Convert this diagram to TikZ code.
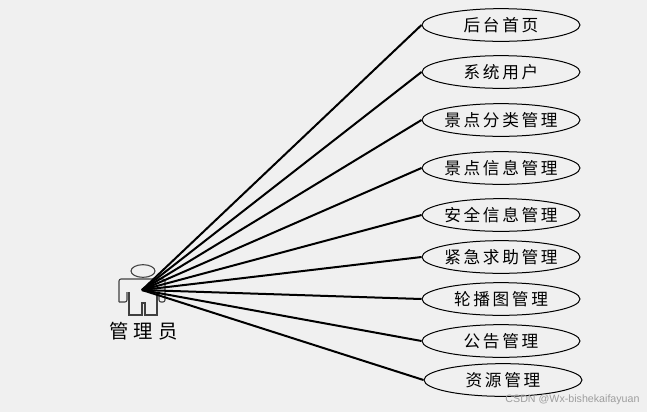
\documentclass[tikz,border=0pt]{standalone}
\usepackage{fontspec}
\usetikzlibrary{shapes.geometric}
\setmainfont{Liberation Sans}
\newfontfamily\cjk[LetterSpace=16]{Noto Sans CJK SC}
\newfontfamily\cjkwide[LetterSpace=25]{Noto Sans CJK SC}
\definecolor{bgc}{HTML}{F0F0F0}
\newcommand{\uctext}[1]{\makebox[0pt][c]{#1}}
\begin{document}
\begin{tikzpicture}[x=0.75pt,y=-0.75pt,
  usecase/.style={draw=black,line width=0.75pt,ellipse,minimum width=118.5pt,minimum height=24.5pt,inner sep=0pt,font=\cjk\fontsize{12.5pt}{14pt}\selectfont},
  link/.style={draw=black,line width=1.5pt},
  outline/.style={draw=black!75,line width=0.8pt}]
\useasboundingbox[fill=bgc] (0,0) rectangle (647,412);
\node[usecase] (u1) at (501,25) {\uctext{后台首页}};
\node[usecase] (u2) at (501,72) {\uctext{系统用户}};
\node[usecase] (u3) at (501,120) {\uctext{景点分类管理}};
\node[usecase] (u4) at (501,168) {\uctext{景点信息管理}};
\node[usecase] (u5) at (501,215) {\uctext{安全信息管理}};
\node[usecase] (u6) at (501,257) {\uctext{紧急求助管理}};
\node[usecase] (u7) at (501,299) {\uctext{轮播图管理}};
\node[usecase] (u8) at (501,341) {\uctext{公告管理}};
\node[usecase] (u9) at (503,380) {\uctext{资源管理}};
% actor
\node[draw=black!75,line width=0.8pt,ellipse,minimum width=18pt,minimum height=9.5pt,inner sep=0pt] (head) at (143,271) {};
\draw[outline,rounded corners=1.5pt] (119,302) -- (119,279) -- (165,279) -- (165,302) -- (159,302) -- (159,292);
\draw[outline,rounded corners=1.5pt] (119,302) -- (127,302) -- (127,292);
\draw[outline] (129,292) -- (129,315) -- (142,315) -- (142,303) -- (145,303) -- (145,315) -- (157,315) -- (157,292);
\coordinate (hub) at (142,290);
\node[font=\cjkwide\fontsize{14.5pt}{16pt}\selectfont] (actor) at (143.5,331) {管理员};
\foreach \n in {1,...,9} \draw[link] (hub) -- (u\n.west);
\node[text=black!38,font=\fontsize{8pt}{10pt}\selectfont,inner sep=0pt] (wm) at (572.5,400) {CSDN @Wx-bishekaifayuan};
\end{tikzpicture}
\end{document}
